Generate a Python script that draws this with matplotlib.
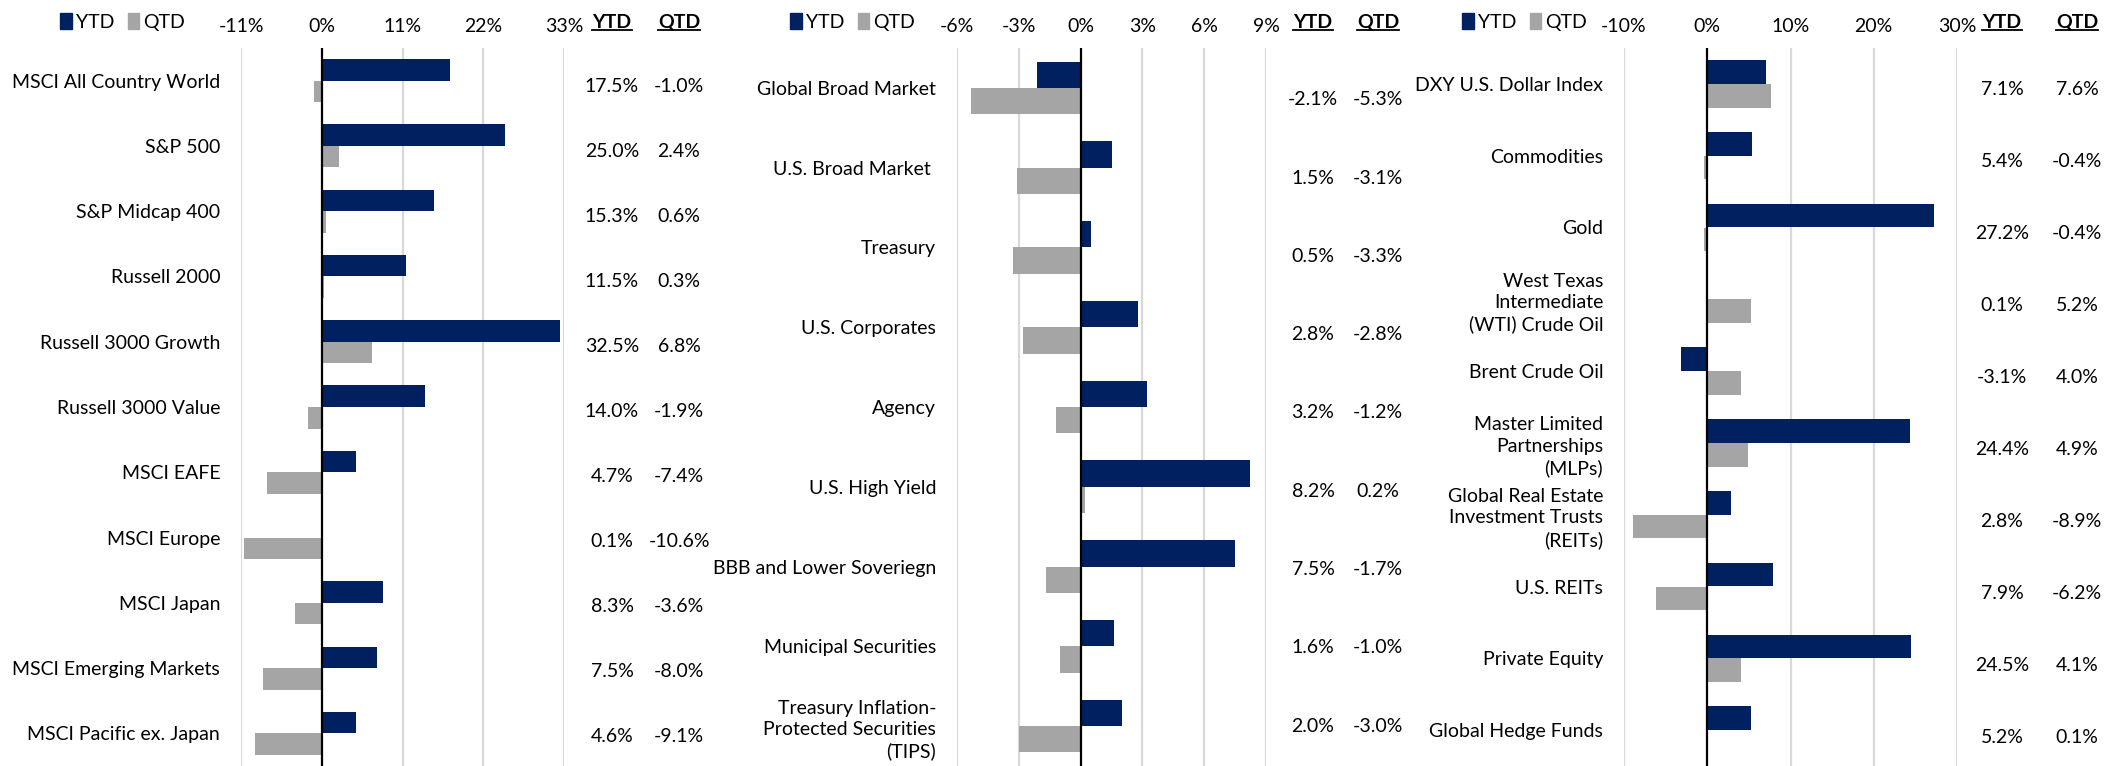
import numpy as np
import matplotlib.pyplot as plt
from matplotlib.patches import Patch
from matplotlib.lines import Line2D
from matplotlib.transforms import blended_transform_factory

plt.rcParams['font.family'] = ['Lato', 'DejaVu Sans']

navy = '#002060'
grey = '#A5A5A5'
fs = 14

# equities
eq_names = ['MSCI All Country World', 'S&P 500', 'S&P Midcap 400', 'Russell 2000',
            'Russell 3000 Growth', 'Russell 3000 Value', 'MSCI EAFE', 'MSCI Europe',
            'MSCI Japan', 'MSCI Emerging Markets', 'MSCI Pacific ex. Japan']
eq_ytd = [17.5, 25.0, 15.3, 11.5, 32.5, 14.0, 4.7, 0.1, 8.3, 7.5, 4.6]
eq_qtd = [-1.0, 2.4, 0.6, 0.3, 6.8, -1.9, -7.4, -10.6, -3.6, -8.0, -9.1]
eq_ticks = [-11, 0, 11, 22, 33]

# fixed income
fi_names = ['Global Broad Market', 'U.S. Broad Market ', 'Treasury', 'U.S. Corporates',
            'Agency', 'U.S. High Yield', 'BBB and Lower Soveriegn', 'Municipal Securities',
            'Treasury Inflation-\nProtected Securities\n(TIPS)']
fi_ytd = [-2.1, 1.5, 0.5, 2.8, 3.2, 8.2, 7.5, 1.6, 2.0]
fi_qtd = [-5.3, -3.1, -3.3, -2.8, -1.2, 0.2, -1.7, -1.0, -3.0]
fi_ticks = [-6, -3, 0, 3, 6, 9]

# alternatives
alt_names = ['DXY U.S. Dollar Index', 'Commodities', 'Gold',
             'West Texas\nIntermediate\n(WTI) Crude Oil', 'Brent Crude Oil',
             'Master Limited\nPartnerships\n(MLPs)', 'Global Real Estate\nInvestment Trusts\n(REITs)',
             'U.S. REITs', 'Private Equity', 'Global Hedge Funds']
alt_ytd = [7.1, 5.4, 27.2, 0.1, -3.1, 24.4, 2.8, 7.9, 24.5, 5.2]
alt_qtd = [7.6, -0.4, -0.4, 5.2, 4.0, 4.9, -8.9, -6.2, 4.1, 0.1]
alt_ticks = [-10, 0, 10, 20, 30]

W, H = 2123, 766
fig = plt.figure(figsize=(W / 100, H / 100), dpi=100)
top_px = 48
row_y = 1 - 22 / H
headers = []


def panel(names, ytd, qtd, ticks, x_px, leg_x, hdr_x, off):
    left, right = x_px
    ax = fig.add_axes([left / W, 0, (right - left) / W, 1 - top_px / H])
    n = len(names)
    y = np.arange(n)
    h = 0.33
    ax.barh(y - h / 2, ytd, height=h, color=navy, zorder=2)
    ax.barh(y + h / 2, qtd, height=h, color=grey, zorder=2)
    ax.set_ylim(n - 0.5, -0.5)
    ax.set_xlim(ticks[0], ticks[-1])
    ax.set_xticks(ticks)
    ax.set_xticklabels([f'{t}%' for t in ticks])
    ax.xaxis.tick_top()
    ax.tick_params(axis='x', length=0, labelsize=fs, pad=9)
    ax.set_yticks(y)
    ax.set_yticklabels(names, fontsize=fs, linespacing=1.3)
    ax.tick_params(axis='y', length=0, pad=15)
    for s in ax.spines.values():
        s.set_visible(False)
    for t in ticks:
        if t != 0:
            ax.axvline(t, color='#D9D9D9', lw=1.6, zorder=0)
    ax.axvline(0, color='black', lw=1.6, zorder=3)

    # legend
    handles = [Patch(color=navy, label='YTD'), Patch(color=grey, label='QTD')]
    fig.legend(handles=handles, loc='center left', bbox_to_anchor=(leg_x / W, row_y),
               ncol=2, frameon=False, fontsize=fs, handlelength=0.6, handleheight=0.9,
               handletextpad=0.2, columnspacing=0.7, borderpad=0, borderaxespad=0)

    # value columns
    tr = blended_transform_factory(fig.transFigure, ax.transData)
    offs = np.linspace(off[0], off[1], n)
    for i in range(n):
        ax.text(hdr_x[0] / W, y[i] + offs[i], f'{ytd[i]:.1f}%', transform=tr,
                ha='center', va='center', fontsize=fs)
        ax.text(hdr_x[1] / W, y[i] + offs[i], f'{qtd[i]:.1f}%', transform=tr,
                ha='center', va='center', fontsize=fs)
    for hx, lab in zip(hdr_x, ['YTD', 'QTD']):
        headers.append(fig.text(hx / W, row_y, lab, ha='center', va='center',
                                fontsize=fs, fontweight='bold'))
    return ax


panel(eq_names, eq_ytd, eq_qtd, eq_ticks, (241, 564), 60, (612, 679), (0.09, 0.05))
panel(fi_names, fi_ytd, fi_qtd, fi_ticks, (957, 1266), 790, (1313, 1378), (0.15, 0.0))
panel(alt_names, alt_ytd, alt_qtd, alt_ticks, (1624, 1957), 1462, (2002, 2077), (0.08, 0.1))

# underline the column headers
fig.canvas.draw()
r = fig.canvas.get_renderer()
inv = fig.transFigure.inverted()
for t in headers:
    bb = t.get_window_extent(r)
    (x0, y0), (x1, _) = inv.transform([(bb.x0, bb.y0 + 1), (bb.x1, bb.y0 + 1)])
    fig.add_artist(Line2D([x0, x1], [y0, y0], color='black', lw=1.3))

fig.savefig('out.png', dpi=100)
